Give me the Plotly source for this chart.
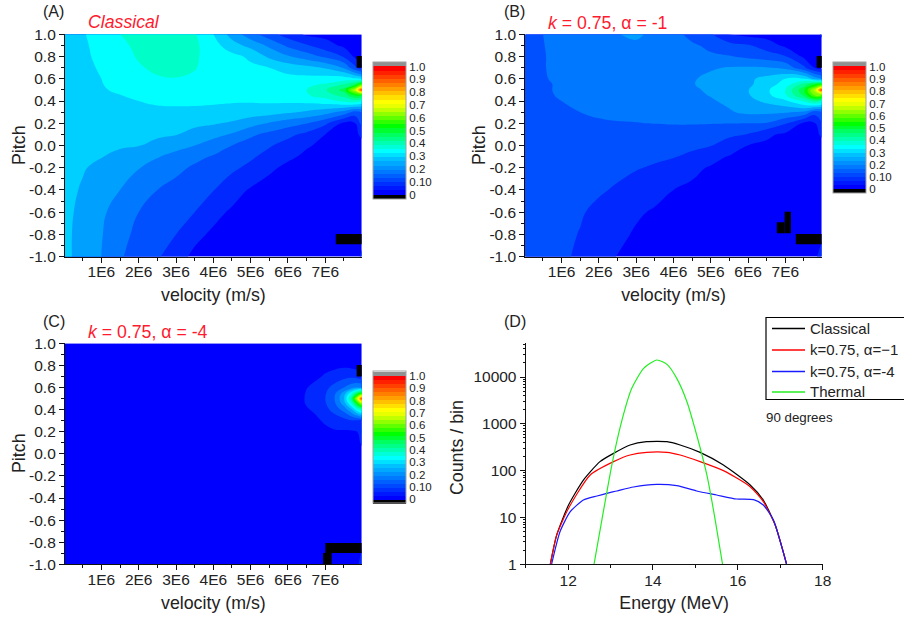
import plotly.graph_objects as go

W, H = 904, 619

# ---- velocity / pitch grid for panels A and B (velocity in units of 1E6 m/s)
velocity = [0.02, 0.5, 1, 1.5, 2, 2.5, 3, 3.5, 4, 4.5, 5, 5.5, 6, 6.5, 7, 7.5, 7.8, 7.98]
pitch = [-1, -0.8, -0.6, -0.4, -0.2, -0.1, 0, 0.1, 0.2, 0.3, 0.4, 0.45, 0.5, 0.55, 0.6, 0.7, 0.8, 0.9, 1]

field_a = [
    [.26, .235, .2, .155, .13, .107, .068, .04, .035, .032, .03, .03, .03, .03, .03, .03, .03, .06],
    [.26, .235, .203, .165, .138, .119, .1, .062, .042, .035, .032, .03, .03, .03, .03, .03, .03, .03],
    [.262, .238, .21, .175, .15, .133, .117, .1, .064, .043, .035, .032, .03, .03, .03, .03, .03, .03],
    [.265, .245, .222, .2, .175, .15, .134, .118, .102, .07, .045, .037, .033, .03, .03, .03, .03, .03],
    [.268, .254, .238, .22, .202, .182, .162, .143, .127, .11, .088, .056, .043, .037, .033, .03, .03, .03],
    [.27, .26, .252, .233, .22, .203, .183, .163, .146, .127, .108, .083, .056, .044, .04, .035, .03, .03],
    [.275, .27, .265, .258, .252, .236, .218, .2, .175, .15, .128, .105, .08, .053, .043, .04, .035, .035],
    [.28, .277, .275, .27, .265, .258, .252, .235, .216, .195, .16, .135, .113, .087, .05, .045, .04, .06],
    [.285, .284, .282, .28, .277, .27, .265, .26, .255, .243, .22, .196, .172, .152, .11, .04, .05, .12],
    [.29, .29, .29, .29, .288, .285, .283, .282, .28, .28, .275, .27, .257, .242, .22, .18, .13, .15],
    [.29, .29, .29, .292, .3, .31, .315, .315, .31, .305, .305, .308, .31, .315, .33, .36, .38, .35],
    [.29, .29, .293, .298, .313, .325, .33, .33, .33, .325, .325, .33, .335, .345, .37, .42, .5, .5],
    [.29, .291, .295, .308, .325, .335, .34, .34, .335, .335, .335, .335, .34, .35, .395, .47, .68, 1.0],
    [.29, .292, .298, .316, .33, .34, .345, .345, .335, .33, .325, .325, .33, .34, .355, .40, .46, .6],
    [.288, .292, .3, .32, .335, .345, .348, .345, .335, .325, .32, .318, .315, .315, .32, .325, .31, .3],
    [.285, .293, .303, .325, .345, .36, .365, .352, .335, .325, .31, .3, .28, .265, .245, .195, .11, .06],
    [.285, .294, .307, .33, .355, .37, .37, .355, .335, .315, .29, .24, .205, .175, .14, .095, .04, .03],
    [.285, .295, .31, .34, .36, .37, .37, .36, .32, .27, .235, .19, .14, .105, .07, .04, .03, .03],
    [.285, .296, .32, .35, .365, .375, .37, .355, .3, .23, .17, .12, .075, .042, .035, .03, .03, .03],
]

field_b = [
    [.13, .12, .11, .09, .07, .048, .04, .035, .03, .03, .03, .03, .03, .03, .03, .03, .03, .1],
    [.13, .12, .11, .098, .08, .06, .045, .04, .035, .03, .03, .03, .03, .03, .03, .03, .03, .03],
    [.13, .125, .115, .104, .09, .075, .056, .045, .04, .035, .03, .03, .03, .03, .03, .03, .03, .03],
    [.135, .13, .122, .115, .105, .095, .08, .065, .05, .042, .035, .03, .03, .03, .03, .03, .03, .03],
    [.135, .13, .125, .12, .115, .11, .103, .095, .08, .06, .046, .04, .035, .03, .03, .03, .03, .03],
    [.135, .133, .13, .127, .122, .117, .113, .108, .103, .09, .065, .047, .04, .035, .03, .03, .03, .03],
    [.14, .137, .135, .132, .13, .127, .125, .12, .115, .11, .102, .075, .049, .04, .035, .03, .03, .03],
    [.14, .14, .14, .14, .137, .135, .133, .13, .128, .125, .118, .11, .098, .06, .04, .035, .035, .06],
    [.14, .14, .142, .144, .146, .148, .149, .151, .153, .153, .152, .151, .15, .147, .105, .04, .05, .1],
    [.14, .142, .145, .15, .155, .158, .16, .162, .165, .168, .175, .195, .21, .21, .205, .19, .12, .14],
    [.14, .143, .15, .155, .16, .165, .168, .17, .175, .185, .195, .21, .235, .26, .29, .36, .42, .38],
    [.14, .145, .153, .158, .163, .168, .172, .175, .18, .19, .202, .22, .245, .285, .34, .46, .6, .6],
    [.14, .145, .155, .16, .165, .17, .175, .18, .185, .195, .205, .225, .248, .29, .35, .49, .68, 1.0],
    [.14, .145, .155, .16, .165, .17, .175, .18, .187, .198, .21, .225, .24, .275, .32, .42, .5, .55],
    [.14, .148, .155, .16, .165, .17, .175, .18, .188, .196, .21, .222, .24, .265, .3, .305, .23, .2],
    [.14, .149, .155, .16, .163, .167, .17, .175, .18, .185, .195, .203, .205, .203, .185, .11, .045, .03],
    [.14, .149, .155, .16, .165, .17, .17, .168, .165, .16, .157, .153, .14, .125, .104, .04, .03, .03],
    [.14, .149, .16, .168, .175, .185, .19, .18, .17, .157, .14, .12, .105, .075, .04, .03, .03, .03],
    [.14, .15, .165, .175, .185, .198, .21, .185, .165, .135, .105, .045, .035, .03, .03, .03, .03, .06],
]

# ---- panel C has its own grid, nearly all of it is the lowest band
velocity_c = [0.02, 6, 6.4, 6.7, 7, 7.25, 7.5, 7.7, 7.85, 7.98]
pitch_c = [-1, -0.8, 0, 0.1, 0.2, 0.3, 0.4, 0.45, 0.5, 0.55, 0.6, 0.7, 0.8, 0.9, 1]
field_c = [
    [.03, .03, .03, .03, .03, .03, .03, .03, .03, .1],
    [.03, .03, .03, .03, .03, .03, .03, .03, .03, .03],
    [.03, .03, .03, .03, .03, .03, .03, .03, .03, .03],
    [.03, .03, .03, .03, .03, .03, .03, .03, .03, .06],
    [.03, .03, .03, .03, .04, .045, .045, .045, .05, .11],
    [.03, .03, .03, .04, .056, .07, .08, .095, .09, .1],
    [.03, .03, .042, .055, .085, .12, .17, .24, .33, .4],
    [.03, .035, .046, .065, .095, .14, .22, .34, .5, .65],
    [.03, .035, .047, .068, .1, .15, .245, .42, .68, 1.0],
    [.03, .035, .046, .065, .095, .14, .22, .33, .45, .55],
    [.03, .033, .044, .058, .085, .12, .15, .18, .2, .2],
    [.03, .03, .033, .042, .054, .066, .085, .09, .08, .06],
    [.03, .03, .03, .033, .04, .04, .04, .035, .03, .03],
    [.03, .03, .03, .03, .03, .03, .03, .03, .03, .03],
    [.03, .03, .03, .03, .03, .03, .03, .03, .03, .05],
]

# ---- empty (zero-count) cells: velocity from, velocity to, pitch from, pitch to
empty_a = [(7.84, 7.98, 0.70, 0.805), (7.28, 7.98, -0.889, -0.796)]
empty_b = [(7.84, 7.98, 0.70, 0.805), (7.28, 7.98, -0.889, -0.796),
           (6.98, 7.15, -0.79, -0.595), (6.77, 6.98, -0.79, -0.69)]
empty_c = [(7.84, 7.98, 0.70, 0.804), (7.0, 7.98, -0.897, -0.807), (6.94, 7.17, -1.0, -0.897)]

# ---- panel D spectra
energy_classical = [11.58, 11.73, 12.01, 12.36, 12.75, 13.07, 13.46, 13.85, 14.33, 14.64, 15.11, 15.66, 16.29, 16.6, 16.88, 17.15]
counts_classical = [1, 4.2, 18.5, 63, 156, 234, 353, 416, 416, 353, 246, 132, 49.4, 23.6, 6.9, 1]
energy_k1 = [11.58, 11.73, 12.01, 12.52, 13.07, 13.46, 13.85, 14.33, 14.64, 15.11, 15.66, 16.29, 16.6, 16.88, 17.15]
counts_k1 = [1, 4.2, 15.7, 81, 156, 216, 246, 246, 216, 156, 100, 45.5, 21.8, 6.9, 1]
energy_k4 = [11.61, 11.81, 12.05, 12.36, 12.68, 12.91, 13.15, 13.54, 14.09, 14.56, 15.03, 15.5, 15.97, 16.37, 16.6, 16.84, 17.0, 17.15]
counts_k4 = [1, 5, 13.3, 23.6, 28.8, 32.8, 36.8, 44.8, 51, 47.9, 36.8, 30.2, 24.8, 24, 18.5, 8.8, 3.05, 1]
energy_thermal = [12.61, 12.83, 13.03, 13.26, 13.5, 13.78, 14.09, 14.33, 14.56, 14.8, 15.03, 15.27, 15.46, 15.64]
counts_thermal = [1, 13.3, 132, 1113, 5730, 15300, 23070, 18620, 9350, 2970, 577, 81, 9.6, 1]

series_names = ["Classical", "k=0.75, α=−1", "k=0.75, α=-4", "Thermal"]
series_colors = ["#000000", "#ff0000", "#1a1aff", "#22ee22"]

velocity_ticks = [1, 2, 3, 4, 5, 6, 7]
velocity_labels = ["1E6", "2E6", "3E6", "4E6", "5E6", "6E6", "7E6"]
pitch_ticks = [-1, -.8, -.6, -.4, -.2, 0, .2, .4, .6, .8, 1]
pitch_labels = ["-1.0", "-0.8", "-0.6", "-0.4", "-0.2", "0.0", "0.2", "0.4", "0.6", "0.8", "1.0"]
bar_ticks = [0, .1, .2, .3, .4, .5, .6, .7, .8, .9, 1]
bar_labels = ["0", "0.10", "0.2", "0.3", "0.4", "0.5", "0.6", "0.7", "0.8", "0.9", "1.0"]
energy_ticks = [12, 14, 16, 18]
count_ticks = [1, 10, 100, 1000, 10000]

# colours of the filled bands (0.05 wide) in the maps
band_colors = ["#0000ff", "#0028ff", "#0050ff", "#0078ff", "#00a0ff", "#00d0ff", "#00ffff",
               "#00ffc8", "#00ff90", "#00ff50", "#00ff00", "#40ff00", "#80ff00", "#b0ff00",
               "#e0ff00", "#ffff00", "#ffcc00", "#ff9900", "#ff6600", "#ff0000"]
# colours of the finer colour-bar steps, bottom to top, with black and grey end caps
bar_colors = ["#000000", "#0000ff", "#0018ff", "#0030ff", "#0048ff", "#0060ff", "#0078ff", "#0090ff",
              "#00a8ff", "#00c0ff", "#00e0ff", "#00ffff", "#00ffd8", "#00ffb0", "#00ff88", "#00ff60",
              "#00ff30", "#00ff00", "#30ff00", "#60ff00", "#90ff00", "#c0ff00", "#e8ff00", "#ffff00",
              "#ffe000", "#ffc000", "#ffa000", "#ff8000", "#ff6000", "#ff4000", "#ff2000", "#ff0000", "#909090"]
CAP = 0.035
BAR_MIN, BAR_MAX = -CAP, 1 + CAP
inner = len(bar_colors) - 2
edges = [BAR_MIN] + [i / inner for i in range(inner + 1)] + [BAR_MAX]
step_scale = []
for i, c in enumerate(bar_colors):
    step_scale.append([(edges[i] - BAR_MIN) / (BAR_MAX - BAR_MIN), c])
    step_scale.append([(edges[i + 1] - BAR_MIN) / (BAR_MAX - BAR_MIN), c])

FONT = "Liberation Sans"
INK = "#222222"
band_scale = [[i / (len(band_colors) - 1), c] for i, c in enumerate(band_colors)]

fig = go.Figure()


def dom(a, b, size):
    return [a / size, b / size]


def ydom(top, bottom):
    return [1 - bottom / H, 1 - top / H]


def add_map(ax, xs, ys, zs, cells, bar):
    xa, ya = ("x" + ax, "y" + ax)
    # the heatmap sits under the contour; it only carries the colour bar
    x0, x1, y0, y1 = cells[0]
    fig.add_trace(go.Heatmap(
        x=[x0, x1], y=[y0, y1], z=[[-0.02]], xaxis=xa, yaxis=ya, zmin=BAR_MIN, zmax=BAR_MAX,
        colorscale=step_scale, showscale=True, hoverinfo="skip",
        colorbar=dict(
            x=bar["x"] / W, xref="paper", xanchor="left", xpad=0, ypad=0,
            y=1 - bar["bottom"] / H, yref="paper", yanchor="bottom",
            lenmode="pixels", len=bar["bottom"] - bar["top"],
            thicknessmode="pixels", thickness=33, outlinecolor="#a0a0a0", outlinewidth=1,
            borderwidth=0, ticks="", tickmode="array", tickvals=bar_ticks, ticktext=bar_labels,
            ticklabelposition="outside", tickfont=dict(family=FONT, size=11.5, color=INK))))
    fig.add_trace(go.Contour(
        x=xs, y=ys, z=zs, xaxis=xa, yaxis=ya, showscale=False, colorscale=band_scale,
        autocontour=False, contours=dict(start=.05, end=.95, size=.05, coloring="fill", showlines=False),
        line=dict(width=0, smoothing=1.3), hoverinfo="skip"))
    for x0, x1, y0, y1 in cells:
        fig.add_trace(go.Scatter(
            x=[x0, x1, x1, x0, x0], y=[y0, y0, y1, y1, y0], xaxis=xa, yaxis=ya, mode="lines",
            fill="toself", fillcolor="#000000", line=dict(width=0, color="#000000"),
            showlegend=False, hoverinfo="skip"))


add_map("", velocity, pitch, field_a, empty_a, dict(x=372.5, top=62.5, bottom=199))
add_map("2", velocity, pitch, field_b, empty_b, dict(x=833, top=62.5, bottom=193.5))
add_map("3", velocity_c, pitch_c, field_c, empty_c, dict(x=372.5, top=371.5, bottom=503.5))

spectra = [(energy_classical, counts_classical), (energy_k1, counts_k1),
           (energy_k4, counts_k4), (energy_thermal, counts_thermal)]
for (xs, ys), name, color in zip(spectra, series_names, series_colors):
    fig.add_trace(go.Scatter(x=xs, y=ys, name=name, mode="lines", xaxis="x4", yaxis="y4", showlegend=False,
                             line=dict(color=color, width=1.2, shape="spline", smoothing=0.6)))

axis_common = dict(showgrid=False, zeroline=False, showline=True, linecolor="#111111", linewidth=1.2,
                   ticks="outside", ticklen=5, tickcolor="#111111", tickfont=dict(family=FONT, size=15.5, color=INK))
title_font = dict(family=FONT, size=17.8, color=INK)


def map_axes(suffix, x0, x1, top, bottom):
    xkey, ykey = "xaxis" + suffix, "yaxis" + suffix
    anchor_x, anchor_y = "y" + suffix, "x" + suffix
    fig.layout[xkey] = dict(
        axis_common, domain=dom(x0, x1, W), range=[.026, 7.975], anchor=anchor_x, ticklabelstandoff=-4,
        tickmode="array", tickvals=velocity_ticks, ticktext=velocity_labels,
        minor=dict(ticks="outside", ticklen=3, tickcolor="#111111", tickmode="array",
                   tickvals=[.5, 1.5, 2.5, 3.5, 4.5, 5.5, 6.5, 7.5]),
        title=dict(text="velocity (m/s)", font=title_font, standoff=9))
    fig.layout[ykey] = dict(
        axis_common, domain=ydom(top, bottom), range=[-1, 1], anchor=anchor_y,
        tickmode="array", tickvals=pitch_ticks, ticktext=pitch_labels,
        minor=dict(ticks="outside", ticklen=3, tickcolor="#111111", tickmode="array",
                   tickvals=[-.9, -.7, -.5, -.3, -.1, .1, .3, .5, .7, .9]))


map_axes("", 65, 361.7, 34.3, 256.7)
map_axes("2", 525.3, 821.7, 34.3, 256.7)
map_axes("3", 65, 361.7, 343.3, 564.3)

fig.layout["xaxis4"] = dict(
    axis_common, domain=dom(525.7, 822.7, W), range=[11, 18], anchor="y4", ticklabelstandoff=-3,
    tickmode="array", tickvals=energy_ticks,
    minor=dict(ticks="outside", ticklen=3, tickcolor="#111111", tickmode="array", tickvals=[11, 13, 15, 17]),
    title=dict(text="Energy (MeV)", font=title_font, standoff=8))
fig.layout["yaxis4"] = dict(
    axis_common, domain=ydom(343.3, 564.3), type="log", range=[0, 4.72], anchor="x4",
    tickmode="array", tickvals=count_ticks, ticktext=[str(v) for v in count_ticks],
    minor=dict(ticks="outside", ticklen=2, tickcolor="#111111", tickmode="array",
               tickvals=[m * 10 ** e for e in range(5) for m in range(2, 10)]))


def note(text, px, py, size=16, color=INK):
    return dict(text=text, x=px / W, y=1 - py / H, xref="paper", yref="paper", xanchor="left", yanchor="middle",
                showarrow=False, font=dict(family=FONT, size=size, color=color))


def side_title(text, px, py):
    return dict(text=text, x=px / W, y=1 - py / H, xref="paper", yref="paper", xanchor="center", yanchor="middle",
                textangle=-90, showarrow=False, font=title_font)


# legend box, drawn to the reference's pixel layout
legend_rows = [328, 349.5, 371, 391.5]
shapes = [dict(type="rect", xref="paper", yref="paper", x0=766 / W, x1=910 / W,
               y0=1 - 399.5 / H, y1=1 - 317.5 / H, line=dict(color="#000000", width=1.2), fillcolor="white")]
legend_notes = []
for row, name, color in zip(legend_rows, series_names, series_colors):
    shapes.append(dict(type="line", xref="paper", yref="paper", x0=772 / W, x1=805 / W,
                       y0=1 - (row + 0.5) / H, y1=1 - (row + 0.5) / H, line=dict(color=color, width=1.3)))
    legend_notes.append(dict(text=name, x=808 / W, y=1 - row / H, xref="paper", yref="paper", xanchor="left",
                             yanchor="middle", showarrow=False, font=dict(family=FONT, size=15, color=INK)))

RED = "#ff1a2e"
fig.update_layout(
    width=W, height=H, autosize=False, margin=dict(l=0, r=0, t=0, b=0, autoexpand=False),
    paper_bgcolor="white", plot_bgcolor="white", showlegend=False, shapes=shapes,
    annotations=[
        note("(A)", 41, 12), note("<i>Classical</i>", 86, 22, 17.7, RED),
        note("(B)", 502, 12), note("<i>k</i> = 0.75, α = -1", 545.5, 23, 17.7, RED),
        note("(C)", 41, 321), note("<i>k</i> = 0.75, α = -4", 85.5, 332, 17.7, RED),
        note("(D)", 502, 321), note("90 degrees", 764, 417, 13.3),
        side_title("Pitch", 19, 145), side_title("Pitch", 479, 145), side_title("Pitch", 19, 453),
        side_title("Counts / bin", 457, 448),
    ] + legend_notes)

fig.write_html("out.html", config={"displayModeBar": False},
               post_script="document.body.style.margin='0';document.body.style.overflow='hidden';")
